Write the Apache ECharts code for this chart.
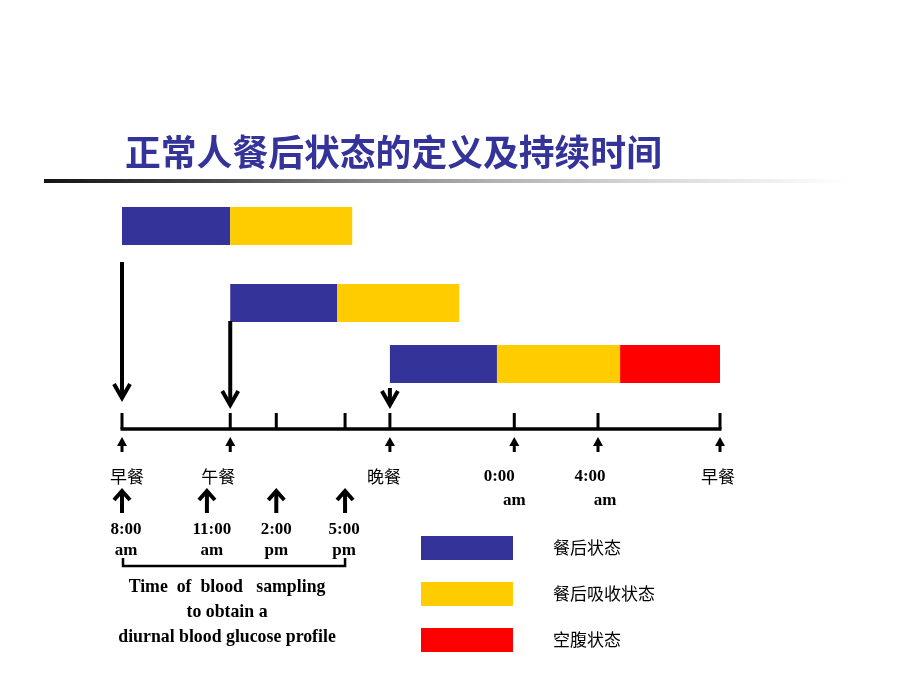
<!DOCTYPE html>
<html><head><meta charset="utf-8">
<script src="https://cdn.jsdelivr.net/npm/echarts@6/dist/echarts.min.js"></script>
<style>html,body{margin:0;padding:0;background:#fff}#c{width:920px;height:690px}</style>
</head><body><div id="c"></div>
<script>
// ---------- data ----------
const titleText = '正常人餐后状态的定义及持续时间';
const stateNames = ['餐后状态', '餐后吸收状态', '空腹状态'];
const mealRows = ['早餐', '午餐', '晚餐'];
// timeline position: 0 = breakfast, 100 = next breakfast; [start, end, mealRowIndex]
const postprandial = [[0, 18.1, 0], [18.1, 36.0, 1], [44.8, 62.7, 2]];
const absorptive = [[18.1, 38.5, 0], [36.0, 56.4, 1], [62.7, 83.3, 2]];
const fasting = [[83.3, 100, 2]];
const mealStarts = [0, 18.1, 44.8];
const timelineTicks = [0, 18.1, 25.8, 37.3, 44.8, 65.6, 79.6, 100];
const eventPositions = [0, 18.1, 44.8, 65.6, 79.6, 100];
const eventLabels = [['早餐'], ['午餐'], ['晚餐'], ['0:00', 'am'], ['4:00', 'am'], ['早餐']];
const samplingPositions = [0, 14.2, 25.8, 37.3];
const samplingLabels = [['8:00', 'am'], ['11:00', 'am'], ['2:00', 'pm'], ['5:00', 'pm']];
const samplingNote = ['Time  of  blood   sampling', 'to obtain a', 'diurnal blood glucose profile'];

// ---------- layout / style ----------
const COLORS = ['#333399', '#FFCC00', '#FF0000'];
const ROW_TOP = [207, 284, 345], ROW_H = 38;
const MEAL_ARROW = [[262, 398], [321, 405], [388, 405]];
const AXIS_Y = 429, TICK_TOP = 413;
const EVENT_DX = [[5], [-12], [-6], [-15, 0], [-8, 7], [-2]];
const EVENT_Y = [477, 501];
const SAMPLE_DX = [4, 5, 0, -1];
const SAMPLE_Y = [530, 551];
const NOTE_Y = [587, 612, 637], NOTE_DX = -7;
const CJK = 'Noto Sans CJK SC', SERIF = 'Liberation Serif';

function fontFor(t) {
  return /[\u4e00-\u9fff]/.test(t)
    ? {fontFamily: CJK, fontSize: 17, fontWeight: 'normal'}
    : {fontFamily: SERIF, fontSize: 17, fontWeight: 'bold'};
}
function txt(t, x, y, extra) {
  return {type: 'text', style: Object.assign({text: t, x: x, y: y, align: 'center', verticalAlign: 'middle', fill: '#000'}, fontFor(t), extra || {})};
}
const X = (api, v) => api.coord([v, 0])[0];

function barRender(params, api) {
  const x0 = X(api, api.value(0)), x1 = X(api, api.value(1));
  const r = api.value(2);
  return {type: 'rect', shape: {x: x0, y: ROW_TOP[r], width: x1 - x0, height: ROW_H}, style: {fill: api.visual('color')}};
}
function mealArrowRender(params, api) {
  const x = X(api, api.value(0));
  const [y0, y1] = MEAL_ARROW[params.dataIndex];
  return {type: 'group', children: [
    {type: 'line', shape: {x1: x, y1: y0, x2: x, y2: y1 - 2}, style: {stroke: '#000', lineWidth: 4}},
    {type: 'polyline', shape: {points: [[x - 8, y1 - 14], [x, y1], [x + 8, y1 - 14]]}, style: {stroke: '#000', lineWidth: 4, fill: null}}
  ]};
}
function tickRender(params, api) {
  const x = X(api, api.value(0));
  const children = [{type: 'line', shape: {x1: x, y1: TICK_TOP, x2: x, y2: AXIS_Y}, style: {stroke: '#000', lineWidth: 3}}];
  if (params.dataIndex === 0) {
    const xa = X(api, timelineTicks[0]), xb = X(api, timelineTicks[timelineTicks.length - 1]);
    children.push({type: 'line', shape: {x1: xa - 1.5, y1: AXIS_Y, x2: xb + 1.5, y2: AXIS_Y}, style: {stroke: '#000', lineWidth: 3.5}});
  }
  return {type: 'group', children};
}
function eventRender(params, api) {
  const i = params.dataIndex;
  const x = X(api, api.value(0));
  const children = [
    {type: 'polygon', shape: {points: [[x, 437], [x - 5, 446], [x + 5, 446]]}, style: {fill: '#000'}},
    {type: 'rect', shape: {x: x - 1.5, y: 445, width: 3, height: 7}, style: {fill: '#000'}}
  ];
  eventLabels[i].forEach((t, k) => children.push(txt(t, x + EVENT_DX[i][k], EVENT_Y[k])));
  return {type: 'group', children};
}
function samplingRender(params, api) {
  const i = params.dataIndex;
  const x = X(api, api.value(0));
  const children = [
    {type: 'line', shape: {x1: x, y1: 492, x2: x, y2: 513}, style: {stroke: '#000', lineWidth: 4}},
    {type: 'polyline', shape: {points: [[x - 8, 500], [x, 491], [x + 8, 500]]}, style: {stroke: '#000', lineWidth: 4, fill: null}}
  ];
  samplingLabels[i].forEach((t, k) => children.push(txt(t, x + SAMPLE_DX[i], SAMPLE_Y[k])));
  if (i === 0) {
    const xa = X(api, samplingPositions[0]) + 1, xb = X(api, samplingPositions[samplingPositions.length - 1]);
    children.push({type: 'polyline', shape: {points: [[xa, 558], [xa, 566], [xb, 566], [xb, 558]]}, style: {stroke: '#000', lineWidth: 2.5, fill: null}});
    const cx = (xa + xb) / 2 + NOTE_DX;
    samplingNote.forEach((t, k) => children.push(txt(t, cx, NOTE_Y[k], {fontSize: 17.8})));
  }
  return {type: 'group', children};
}

const chart = echarts.init(document.getElementById('c'), null, {renderer: 'canvas'});
const pt = arr => arr.map(v => [v, 0]);
chart.setOption({
  animation: false,
  backgroundColor: '#fff',
  title: {text: titleText, left: 125, top: 134, padding: 0,
    textStyle: {fontFamily: CJK, fontSize: 35.8, fontWeight: 'bold', color: '#333399'}},
  graphic: [{type: 'rect', shape: {x: 44, y: 179, width: 806, height: 4}, silent: true,
    style: {fill: new echarts.graphic.LinearGradient(0, 0, 1, 0, [
      {offset: 0, color: '#141414'}, {offset: 0.2, color: '#444'}, {offset: 0.35, color: '#777'},
      {offset: 0.55, color: '#b0b0b0'}, {offset: 0.75, color: '#d8d8d8'}, {offset: 1, color: '#ffffff'}])}}],
  legend: {data: stateNames, orient: 'vertical', left: 421, top: 536, padding: 0,
    itemWidth: 92, itemHeight: 24, itemGap: 22, icon: 'rect', selectedMode: false,
    textStyle: {fontFamily: CJK, fontSize: 17, color: '#000', padding: [8, 0, 0, 35]}},
  grid: {left: 122, right: 200, top: 200, bottom: 100},
  xAxis: {type: 'value', min: 0, max: 100, show: false},
  yAxis: {type: 'value', min: 0, max: 1, show: false},
  series: [
    {name: stateNames[0], type: 'custom', renderItem: barRender, data: postprandial, itemStyle: {color: COLORS[0]}},
    {name: stateNames[1], type: 'custom', renderItem: barRender, data: absorptive, itemStyle: {color: COLORS[1]}},
    {name: stateNames[2], type: 'custom', renderItem: barRender, data: fasting, itemStyle: {color: COLORS[2]}},
    {name: 'meals', type: 'custom', renderItem: mealArrowRender, data: pt(mealStarts)},
    {name: 'timeline', type: 'custom', renderItem: tickRender, data: pt(timelineTicks)},
    {name: 'events', type: 'custom', renderItem: eventRender, data: pt(eventPositions)},
    {name: 'sampling', type: 'custom', renderItem: samplingRender, data: pt(samplingPositions)}
  ]
});
</script></body></html>
